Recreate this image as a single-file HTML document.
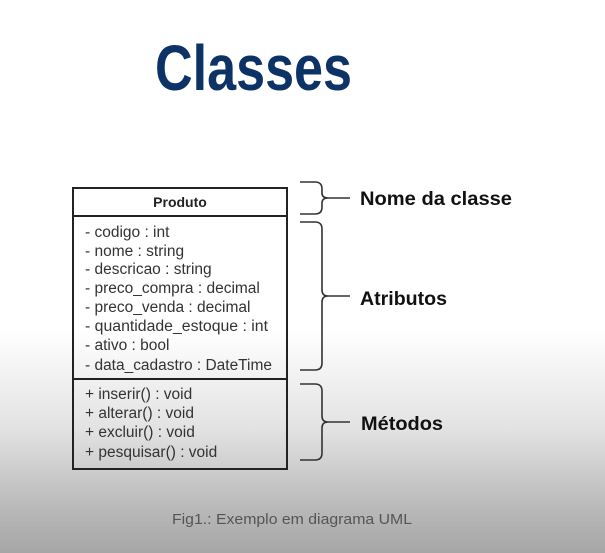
<!DOCTYPE html>
<html><head><meta charset="utf-8"><style>
html,body{margin:0;padding:0}
body{width:605px;height:553px;overflow:hidden;background:linear-gradient(to bottom,#fff 0px,#fff 330px,#e2e2e2 430px,#b8b8b8 510px,#a6a6a6 553px);font-family:"Liberation Sans",sans-serif}
</style></head><body>
<svg width="605" height="553" xmlns="http://www.w3.org/2000/svg" style="position:absolute;left:0;top:0">
<text x="155" y="90" textLength="197" lengthAdjust="spacingAndGlyphs" font-family="Liberation Sans, sans-serif" font-weight="bold" font-size="64" fill="#0d3266">Classes</text>
<rect x="73" y="188" width="214" height="281" fill="none" stroke="#222" stroke-width="2"/>
<line x1="73" y1="216" x2="287" y2="216" stroke="#222" stroke-width="2"/>
<line x1="73" y1="379" x2="287" y2="379" stroke="#222" stroke-width="2"/>
<text x="180" y="207" text-anchor="middle" font-weight="bold" font-size="14" fill="#222" font-family="Liberation Sans, sans-serif">Produto</text>
<g font-family="Liberation Sans, sans-serif" font-size="15.5" fill="#333">
<text x="85" y="237">- codigo : int</text>
<text x="85" y="256">- nome : string</text>
<text x="85" y="274">- descricao : string</text>
<text x="85" y="293">- preco_compra : decimal</text>
<text x="85" y="312">- preco_venda : decimal</text>
<text x="85" y="331" textLength="183" lengthAdjust="spacingAndGlyphs">- quantidade_estoque : int</text>
<text x="85" y="350">- ativo : bool</text>
<text x="85" y="370" textLength="187" lengthAdjust="spacingAndGlyphs">- data_cadastro : DateTime</text>
<text x="85" y="399">+ inserir() : void</text>
<text x="85" y="418">+ alterar() : void</text>
<text x="85" y="437">+ excluir() : void</text>
<text x="85" y="457">+ pesquisar() : void</text>
</g>
<g fill="none" stroke="#333" stroke-width="1.6">
<path d="M300 182 H315 Q322 182 322 189 V193 Q322 198 328 198 H350 M328 198 Q322 198 322 203 V207 Q322 214 315 214 H300"/>
<path d="M300 222 H315 Q322 222 322 229 V290 Q322 296 328 296 H350 M328 296 Q322 296 322 302 V363 Q322 370 315 370 H300"/>
<path d="M300 384 H315 Q322 384 322 391 V416 Q322 422 328 422 H350 M328 422 Q322 422 322 428 V453 Q322 460 315 460 H300"/>
</g>
<g font-family="Liberation Sans, sans-serif" font-weight="bold" font-size="19" fill="#111">
<text x="360" y="205" textLength="152" lengthAdjust="spacingAndGlyphs">Nome da classe</text>
<text x="360" y="305" textLength="87" lengthAdjust="spacingAndGlyphs">Atributos</text>
<text x="361" y="430" textLength="82" lengthAdjust="spacingAndGlyphs">Métodos</text>
</g>
<text x="172" y="524" textLength="240" lengthAdjust="spacingAndGlyphs" font-family="Liberation Sans, sans-serif" font-size="15" fill="#555">Fig1.: Exemplo em diagrama UML</text>
</svg>
</body></html>
